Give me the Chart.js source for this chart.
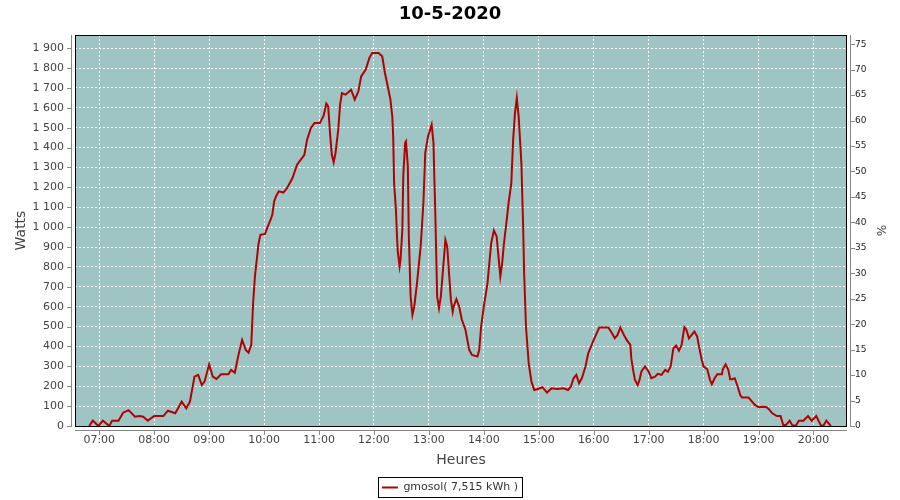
<!DOCTYPE html>
<html>
<head>
<meta charset="utf-8">
<script src="https://cdn.jsdelivr.net/npm/chart.js@4"></script>
<style>
  html, body { margin: 0; padding: 0; background: #fff; }
</style>
</head>
<body>
<canvas id="chart" width="900" height="500"></canvas>
<script>
const times = [
  "06:49","06:53","06:59","07:04","07:11","07:14","07:21","07:26","07:32","07:39","07:44","07:48","07:53",
  "08:00","08:10","08:15","08:23","08:30","08:35","08:39","08:44","08:48","08:52","08:55",
  "09:00","09:04","09:08","09:13","09:21","09:24","09:28","09:32","09:36","09:40","09:43","09:46","09:48","09:50","09:52","09:54","09:56",
  "10:01","10:04","10:07","10:09","10:11","10:13","10:16","10:21","10:25","10:31","10:36","10:44","10:47","10:51","10:55",
  "11:01","11:05","11:08","11:10","11:12","11:14","11:16","11:18","11:21","11:23","11:25","11:29","11:35","11:39","11:43","11:46","11:51","11:55","11:58",
  "12:05","12:09","12:12","12:15","12:18","12:20","12:21","12:22","12:24","12:25","12:26","12:28","12:29","12:31","12:32","12:34","12:35","12:37","12:38","12:40","12:42","12:44","12:47","12:51","12:54","12:56","12:59",
  "13:03","13:05","13:06","13:07","13:09","13:11","13:13","13:16","13:18","13:20","13:22","13:24","13:26","13:27","13:30","13:33","13:36","13:40","13:44","13:47","13:53","13:55","13:57",
  "14:00","14:04","14:06","14:08","14:11","14:14","14:16","14:18","14:20","14:22","14:25","14:27","14:30","14:32","14:34","14:36","14:38","14:41","14:43","14:44","14:46","14:49","14:52","14:55","14:58",
  "15:04","15:09","15:14","15:20","15:27","15:32","15:35","15:38","15:41","15:44","15:47","15:51","15:54","15:57",
  "16:00","16:06","16:16","16:20","16:23","16:26","16:29","16:33","16:36","16:40","16:41","16:43","16:45","16:48","16:50","16:52","16:56",
  "17:00","17:03","17:07","17:10","17:14","17:18","17:21","17:24","17:27","17:30","17:33","17:36","17:39","17:41","17:44","17:47","17:50","17:53","17:55","17:58",
  "18:00","18:04","18:07","18:09","18:12","18:15","18:20","18:21","18:24","18:27","18:29","18:31","18:34","18:37","18:40","18:42","18:49","18:52","18:56",
  "19:00","19:05","19:09","19:12","19:15","19:20","19:24","19:27","19:30","19:34","19:37","19:41","19:44","19:49","19:54","19:58",
  "20:03","20:08","20:11","20:14","20:19"
];

const watts = [
  0,27,0,27,0,27,27,67,80,47,50,47,27,
  50,50,77,64,122,89,122,248,257,206,223,
  310,248,237,260,260,282,268,357,433,383,369,408,617,752,836,919,961,
  966,1003,1037,1062,1129,1154,1180,1174,1196,1247,1314,1364,1440,1498,1523,
  1523,1560,1621,1607,1473,1364,1326,1372,1490,1616,1674,1666,1691,1641,1683,1758,1792,1851,1876,
  1876,1859,1775,1708,1641,1557,1456,1221,1087,970,877,802,836,987,1255,1423,1431,1305,970,651,559,601,718,903,1121,1372,1456,
  1515,1423,1238,1070,651,592,651,819,936,903,768,634,575,601,638,601,534,483,383,357,349,383,500,
  601,718,819,919,983,953,852,752,819,919,1037,1121,1221,1440,1574,1649,1557,1322,987,768,500,315,223,181,185,
  195,168,190,186,190,181,198,240,257,215,240,299,366,399,
  433,495,495,466,441,458,495,458,433,408,341,282,232,206,232,273,299,
  273,240,248,262,257,282,273,299,391,404,378,408,497,487,441,458,475,450,399,332,
  299,285,232,210,240,260,260,285,310,282,235,235,240,201,156,143,143,128,106,
  94,97,94,81,64,50,50,5,5,27,3,3,27,27,50,27,
  50,3,3,27,0
];

const hourLabels = ["07:00","08:00","09:00","10:00","11:00","12:00","13:00","14:00","15:00","16:00","17:00","18:00","19:00","20:00"];
const wattTicks = [0,100,200,300,400,500,600,700,800,900,1000,1100,1200,1300,1400,1500,1600,1700,1800,1900];
const percentTicks = [0,5,10,15,20,25,30,35,40,45,50,55,60,65,70,75];

const seriesName = "gmosol( 7,515 kWh )";

function toMinutes(t) {
  const p = t.split(":");
  return parseInt(p[0], 10) * 60 + parseInt(p[1], 10);
}

function toClock(m) {
  const h = Math.floor(m / 60);
  const mm = Math.round(m % 60);
  return String(h).padStart(2, "0") + ":" + String(mm).padStart(2, "0");
}

function spaced(v) {
  return String(v).replace(/\B(?=(\d{3})+(?!\d))/g, " ");
}

// background, frame, offset axis lines, legend box
const plotFrame = {
  id: "plotFrame",
  beforeDraw(chart) {
    const a = chart.chartArea;
    const ctx = chart.ctx;
    ctx.save();
    ctx.fillStyle = "#9fc4c4";
    ctx.fillRect(a.left, a.top, a.right - a.left, a.bottom - a.top);
    ctx.restore();
  },
  beforeDatasetsDraw(chart) {
    const a = chart.chartArea;
    const ctx = chart.ctx;
    ctx.save();
    ctx.strokeStyle = "#000";
    ctx.lineWidth = 1;
    ctx.strokeRect(a.left + 0.5, a.top + 0.5, a.right - a.left - 1, a.bottom - a.top);
    ctx.restore();
  },
  afterDraw(chart) {
    const a = chart.chartArea;
    const ctx = chart.ctx;
    const sx = chart.scales.x, sy = chart.scales.y, sp = chart.scales.y2;
    ctx.save();
    ctx.strokeStyle = "#888";
    ctx.lineWidth = 1;
    ctx.beginPath();
    // left
    ctx.moveTo(a.left - 3.5, a.top);
    ctx.lineTo(a.left - 3.5, a.bottom + 1);
    wattTicks.forEach(v => {
      const y = Math.round(sy.getPixelForValue(v)) + 0.5;
      ctx.moveTo(a.left - 8, y);
      ctx.lineTo(a.left - 3.5, y);
    });
    // bottom
    ctx.moveTo(a.left, a.bottom + 4.5);
    ctx.lineTo(a.right, a.bottom + 4.5);
    hourLabels.forEach(l => {
      const x = Math.round(sx.getPixelForValue(toMinutes(l))) + 0.5;
      ctx.moveTo(x, a.bottom + 4.5);
      ctx.lineTo(x, a.bottom + 9);
    });
    // right
    ctx.moveTo(a.right + 3.5, a.top);
    ctx.lineTo(a.right + 3.5, a.bottom + 1);
    percentTicks.forEach(v => {
      const y = Math.round(sp.getPixelForValue(v)) + 0.5;
      ctx.moveTo(a.right + 3.5, y);
      ctx.lineTo(a.right + 8, y);
    });
    ctx.stroke();

    const hb = chart.legend.legendHitBoxes[0];
    if (hb) {
      ctx.strokeStyle = "#000";
      ctx.strokeRect(Math.round(hb.left) - 3.5, Math.round(hb.top) - 4.5, Math.round(hb.width) + 8, hb.height + 9);
    }
    ctx.restore();
  }
};

const ctx = document.getElementById("chart").getContext("2d");

const chart = new Chart(ctx, {
  type: "line",
  data: {
    datasets: [{
      label: seriesName,
      data: times.map((t, i) => ({ x: toMinutes(t), y: watts[i] })),
      borderColor: "#b30000",
      backgroundColor: "#b30000",
      borderWidth: 2,
      pointRadius: 0,
      tension: 0,
      fill: false,
      xAxisID: "x",
      yAxisID: "y"
    }]
  },
  options: {
    responsive: false,
    animation: false,
    layout: { padding: { bottom: -3 } },
    plugins: {
      title: {
        display: true,
        text: "10-5-2020",
        color: "#000",
        font: { family: "DejaVu Sans", size: 18, weight: "bold", lineHeight: "22px" },
        padding: { top: 3, bottom: 10 }
      },
      legend: {
        display: true,
        position: "bottom",
        labels: {
          usePointStyle: true,
          pointStyle: "line",
          pointStyleWidth: 16,
          color: "#333",
          font: { family: "DejaVu Sans", size: 11 },
          padding: 10
        }
      },
      tooltip: { enabled: false }
    },
    scales: {
      x: {
        type: "linear",
        min: 393.5,
        max: 1236.6,
        afterBuildTicks: s => { s.ticks = hourLabels.map(l => ({ value: toMinutes(l) })); },
        afterFit: s => { s.height = 46; },
        ticks: {
          callback: v => toClock(v),
          color: "#444",
          font: { family: "DejaVu Sans", size: 11 },
          padding: 8,
          maxRotation: 0,
          autoSkip: false
        },
        grid: { color: "#fff", lineWidth: 1, drawTicks: false },
        border: { display: false, dash: [2, 2] },
        title: {
          display: true,
          text: "Heures",
          color: "#444",
          font: { family: "DejaVu Sans", size: 14 },
          padding: { top: 0, bottom: 3.6 }
        }
      },
      y: {
        position: "left",
        min: 0,
        max: 1966.08,
        afterBuildTicks: s => { s.ticks = wattTicks.map(v => ({ value: v })); },
        afterFit: s => { s.width = 75; },
        ticks: {
          callback: v => spaced(v),
          color: "#444",
          font: { family: "DejaVu Sans", size: 11 },
          padding: 11
        },
        grid: { color: "#fff", lineWidth: 1, drawTicks: false },
        border: { display: false, dash: [2, 2] },
        title: {
          display: true,
          text: "Watts",
          color: "#444",
          font: { family: "DejaVu Sans", size: 14 },
          padding: { top: 12.5, bottom: 0 }
        }
      },
      y2: {
        position: "right",
        min: 0,
        max: 76.8,
        afterBuildTicks: s => { s.ticks = percentTicks.map(v => ({ value: v })); },
        afterFit: s => { s.width = 53; },
        ticks: {
          color: "#222",
          font: { family: "DejaVu Sans", size: 9 },
          padding: 8
        },
        grid: { display: false, drawTicks: false },
        border: { display: false },
        title: {
          display: true,
          text: "%",
          color: "#444",
          font: { family: "DejaVu Sans", size: 12 },
          padding: { top: 12.8, bottom: 0 }
        }
      }
    }
  },
  plugins: [plotFrame]
});
</script>
</body>
</html>
